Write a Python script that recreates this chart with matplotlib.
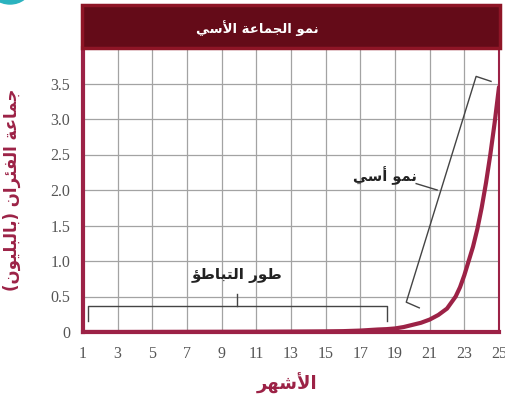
# exponential growth chart - population of mice over months
# arabic text is shaped by hand since matplotlib has no bidi / shaping

import matplotlib.pyplot as plt
from matplotlib.patches import Ellipse, Rectangle

# data
months = [1, 3, 5, 7, 9, 11, 13, 15, 16, 17, 18, 18.5, 19, 19.5, 20, 20.5,
          21, 21.5, 22, 22.5, 22.75, 23, 23.25, 23.5, 23.75, 24, 24.25,
          24.5, 24.75, 25]
mice_billions = [0.0, 0.0, 0.001, 0.002, 0.003, 0.004, 0.006, 0.009, 0.012,
                 0.02, 0.035, 0.04, 0.05, 0.07, 0.1, 0.13, 0.175, 0.24, 0.33,
                 0.5, 0.63, 0.8, 1.0, 1.2, 1.45, 1.75, 2.1, 2.5, 2.95, 3.45]
x_ticks = list(range(1, 26, 2))
y_ticks = [0, 0.5, 1.0, 1.5, 2.0, 2.5, 3.0, 3.5]
y_tick_labels = ['0', '0.5', '1.0', '1.5', '2.0', '2.5', '3.0', '3.5']

title_text = 'نمو الجماعة الأسي'
x_label = 'الأشهر'
y_label = 'جماعة الفئران (بالبليون)'
lag_label = 'طور التباطؤ'
exp_label = 'نمو أسي'

# presentation forms: isolated, final, initial, medial
AR_FORMS = {
    'ا': ('\uFE8D', '\uFE8E', None, None),
    'أ': ('\uFE83', '\uFE84', None, None),
    'ؤ': ('\uFE85', '\uFE86', None, None),
    'ئ': ('\uFE89', '\uFE8A', '\uFE8B', '\uFE8C'),
    'ب': ('\uFE8F', '\uFE90', '\uFE91', '\uFE92'),
    'ة': ('\uFE93', '\uFE94', None, None),
    'ت': ('\uFE95', '\uFE96', '\uFE97', '\uFE98'),
    'ج': ('\uFE9D', '\uFE9E', '\uFE9F', '\uFEA0'),
    'ر': ('\uFEAD', '\uFEAE', None, None),
    'س': ('\uFEB1', '\uFEB2', '\uFEB3', '\uFEB4'),
    'ش': ('\uFEB5', '\uFEB6', '\uFEB7', '\uFEB8'),
    'ط': ('\uFEC1', '\uFEC2', '\uFEC3', '\uFEC4'),
    'ع': ('\uFEC9', '\uFECA', '\uFECB', '\uFECC'),
    'ف': ('\uFED1', '\uFED2', '\uFED3', '\uFED4'),
    'ل': ('\uFEDD', '\uFEDE', '\uFEDF', '\uFEE0'),
    'م': ('\uFEE1', '\uFEE2', '\uFEE3', '\uFEE4'),
    'ن': ('\uFEE5', '\uFEE6', '\uFEE7', '\uFEE8'),
    'ه': ('\uFEE9', '\uFEEA', '\uFEEB', '\uFEEC'),
    'و': ('\uFEED', '\uFEEE', None, None),
    'ي': ('\uFEF1', '\uFEF2', '\uFEF3', '\uFEF4'),
}
LAM_ALEF = {'ا': ('\uFEFB', '\uFEFC'), 'أ': ('\uFEF7', '\uFEF8')}


def shape_ar(text):
    # join letters and flip to visual order
    items = []
    i = 0
    while i < len(text):
        c = text[i]
        if c == 'ل' and i + 1 < len(text) and text[i + 1] in LAM_ALEF:
            items.append(('LA', text[i + 1]))
            i += 2
        else:
            items.append((c, None))
            i += 1

    def is_letter(it):
        return it[0] == 'LA' or it[0] in AR_FORMS

    def joins_next(it):
        return it[0] in AR_FORMS and AR_FORMS[it[0]][2] is not None

    out = []
    for k, it in enumerate(items):
        prev_j = k > 0 and joins_next(items[k - 1]) and is_letter(it)
        next_j = k + 1 < len(items) and is_letter(items[k + 1]) and joins_next(it)
        if it[0] == 'LA':
            out.append(LAM_ALEF[it[1]][1 if prev_j else 0])
        elif it[0] in AR_FORMS:
            f = AR_FORMS[it[0]]
            if prev_j and next_j:
                out.append(f[3])
            elif prev_j:
                out.append(f[1])
            elif next_j:
                out.append(f[2])
            else:
                out.append(f[0])
        else:
            out.append(it[0])
    mirror = {'(': ')', ')': '('}
    return ''.join(mirror.get(ch, ch) for ch in reversed(out))


maroon = '#9c2246'
W, H = 506, 405

fig = plt.figure(figsize=(W / 100, H / 100), dpi=100)
ax = fig.add_axes([83 / W, 1 - 332 / H, (499 - 83) / W, (332 - 48) / H])

# grid
ax.set_xlim(1, 25)
ax.set_ylim(0, 4.0)
ax.set_xticks(x_ticks)
ax.set_yticks(y_ticks + [4.0])
ax.set_yticklabels(y_tick_labels + [''])
ax.grid(True, color='#a3a3a3', linewidth=0.9)
ax.set_axisbelow(True)
ax.tick_params(length=0, labelsize=11.5, labelcolor='#555555')
ax.tick_params(axis='x', pad=10)
ax.tick_params(axis='y', pad=9)
for lbl in ax.get_xticklabels() + ax.get_yticklabels():
    lbl.set_family('Liberation Serif')

# frame
ax.spines['top'].set_visible(False)
for side in ['left', 'bottom']:
    ax.spines[side].set_color(maroon)
    ax.spines[side].set_linewidth(3)
ax.spines['right'].set_color(maroon)
ax.spines['right'].set_linewidth(1.5)

# the growth curve
ax.plot(months, mice_billions, color=maroon, linewidth=3,
        solid_capstyle='round', solid_joinstyle='round', zorder=5)

# lag phase bracket
br = dict(color='#444444', linewidth=1.0, zorder=4)
ax.plot([1.3, 1.3, 18.55, 18.55], [0.15, 0.37, 0.37, 0.15], **br)
ax.plot([9.86, 9.86], [0.37, 0.54], **br)
ax.text(9.86, 0.8, shape_ar(lag_label), ha='center', va='center',
        fontsize=11, fontweight='bold', family='DejaVu Sans', color='#222222')

# exponential bracket
ax.plot([20.4, 19.65, 23.68, 24.54], [0.34, 0.42, 3.6, 3.53], **br)
ax.plot([21.43, 20.22], [2.0, 2.09], **br)
ax.text(18.4, 2.2, shape_ar(exp_label), ha='center', va='center',
        fontsize=10.5, fontweight='bold', family='DejaVu Sans', color='#222222')

# axis labels
ax.set_ylabel(shape_ar(y_label), fontsize=12, fontweight='bold',
              color=maroon, family='DejaVu Sans')
ax.yaxis.set_label_coords((21 - 83) / 416, 0.5)
fig.text(287 / W, 1 - 383 / H, shape_ar(x_label), ha='center', va='center',
         fontsize=13, fontweight='bold', color=maroon, family='DejaVu Sans')

# title band - dark maroon with a brighter rim
fig.patches.append(Rectangle((82 / W, 1 - 48 / H), (500 - 82) / W, 43 / H,
                             transform=fig.transFigure, facecolor='#640b18',
                             edgecolor='#8e1526', linewidth=2.5))
fig.text(257 / W, 1 - 28 / H, shape_ar(title_text), ha='center', va='center',
         fontsize=9.5, fontweight='bold', color='white', family='DejaVu Sans')

# little teal corner mark
fig.patches.append(Ellipse((10 / W, 1 + 12 / H), 40 / W, 32 / H,
                           transform=fig.transFigure, color='#2bb3bf'))

plt.savefig('out.png', dpi=100)
